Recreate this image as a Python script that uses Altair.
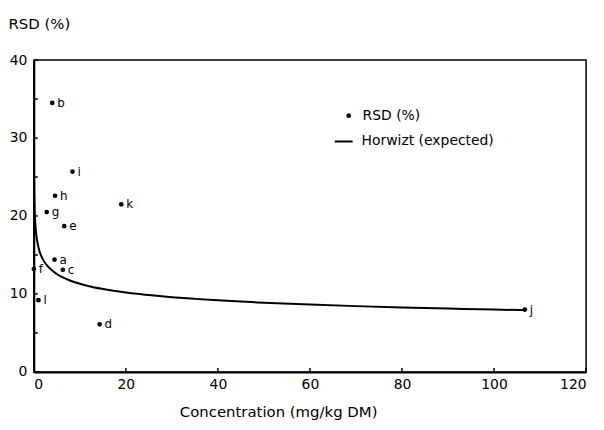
import altair as alt
import pandas as pd

conc = [4.5, 4.0, 6.3, 14.3, 6.6, 0.0, 2.8, 4.6, 8.4, 106.7, 19.0, 1.0]
rsd = [14.4, 34.5, 13.1, 6.1, 18.7, 13.2, 20.5, 22.6, 25.7, 8.0, 21.5, 9.2]
labs = ["a", "b", "c", "d", "e", "f", "g", "h", "i", "j", "k", "l"]

# Horwitz expected curve
curve_x = [0.05, 0.1, 0.2, 0.3, 0.5, 1, 2, 3, 5, 8, 12, 15, 20, 25, 30, 35, 40, 45, 50,
           60, 70, 80, 90, 100, 106.7]
curve_y = [25.10, 22.63, 20.38, 19.18, 17.76, 16.00, 14.41, 13.56, 12.56, 11.70, 11.00,
           10.64, 10.18, 9.86, 9.59, 9.37, 9.18, 9.02, 8.88, 8.64, 8.44, 8.27, 8.13,
           8.00, 7.92]

series_pts = ["RSD (%)"]
series_line = ["Horwizt (expected)"]
x_ticks = [0, 20, 40, 60, 80, 100, 120]
y_ticks = [0, 5, 10, 15, 20, 25, 30, 35, 40]
y_labels = [0, 10, 20, 30, 40]

FONT = "DejaVu Sans"

pts = pd.DataFrame({"conc": conc, "rsd": rsd, "lab": labs, "s1": series_pts[0]})
crv = pd.DataFrame({"conc": curve_x, "rsd": curve_y, "s2": series_line[0]})
xt = pd.DataFrame({"v": x_ticks})
yt = pd.DataFrame({"v": y_ticks})

xscale = alt.Scale(domain=[0, 120], nice=False, zero=False)
yscale = alt.Scale(domain=[0, 40], nice=False, zero=False)

xaxis = alt.Axis(values=x_ticks, title="Concentration (mg/kg DM)", grid=False, ticks=False,
                 labelPadding=6, titleX=246, titleY=40, titleBaseline="middle",
                 titleAlign="center", titleFontWeight="normal", titleFontSize=15,
                 domainWidth=2, domainColor="black")
yaxis = alt.Axis(values=y_labels, title="RSD (%)", grid=False, ticks=False, labelPadding=7,
                 titleAngle=0, titleX=-26, titleY=-37, titleAlign="left",
                 titleBaseline="middle", titleFontWeight="normal", titleFontSize=15,
                 domainWidth=2, domainColor="black")

line = alt.Chart(crv).mark_line(strokeWidth=2, interpolate="monotone").encode(
    x=alt.X("conc:Q", scale=xscale, axis=xaxis),
    y=alt.Y("rsd:Q", scale=yscale, axis=yaxis),
    color=alt.Color("s2:N", scale=alt.Scale(domain=series_line, range=["black"]),
                    legend=alt.Legend(title=None, orient="none", legendX=302, legendY=72,
                                      labelFont=FONT, labelFontSize=14, labelOffset=8,
                                      padding=0, symbolType="stroke", symbolSize=324,
                                      symbolStrokeWidth=2, symbolStrokeColor="black")),
)

points = alt.Chart(pts).mark_point(filled=True, opacity=1, size=22).encode(
    x=alt.X("conc:Q", scale=xscale),
    y=alt.Y("rsd:Q", scale=yscale),
    fill=alt.Fill("s1:N", scale=alt.Scale(domain=series_pts, range=["black"]),
                  legend=alt.Legend(title=None, orient="none", legendX=310, legendY=49,
                                    labelFont=FONT, labelFontSize=14, labelOffset=7,
                                    padding=0, symbolType="circle", symbolSize=22,
                                    symbolFillColor="black")),
)

text = alt.Chart(pts).mark_text(align="left", baseline="middle", dx=5, font=FONT,
                                fontSize=12, color="black").encode(
    x=alt.X("conc:Q", scale=xscale),
    y=alt.Y("rsd:Q", scale=yscale),
    text="lab:N",
)

ytick = alt.Chart(yt).mark_rule(color="black", strokeWidth=1.5).encode(
    x=alt.value(0), x2=alt.value(4), y=alt.Y("v:Q", scale=yscale)
)
xtick = alt.Chart(xt).mark_rule(color="black", strokeWidth=1.5).encode(
    y=alt.value(314), y2=alt.value(310), x=alt.X("v:Q", scale=xscale)
)

chart = alt.layer(ytick, xtick, line, points, text).resolve_legend(
    color="independent", fill="independent"
).properties(
    width=556, height=314,
    autosize=alt.AutoSizeParams(type="none"),
    padding={"left": 26, "top": 51, "right": 10, "bottom": 50},
).configure_view(stroke="black", strokeWidth=1.5).configure_axis(
    labelFont=FONT, labelFontSize=14, labelColor="black",
    titleFont=FONT, titleColor="black",
).configure_legend(labelColor="black")

chart.save("out.html", embed_options={"renderer": "svg", "actions": False})
